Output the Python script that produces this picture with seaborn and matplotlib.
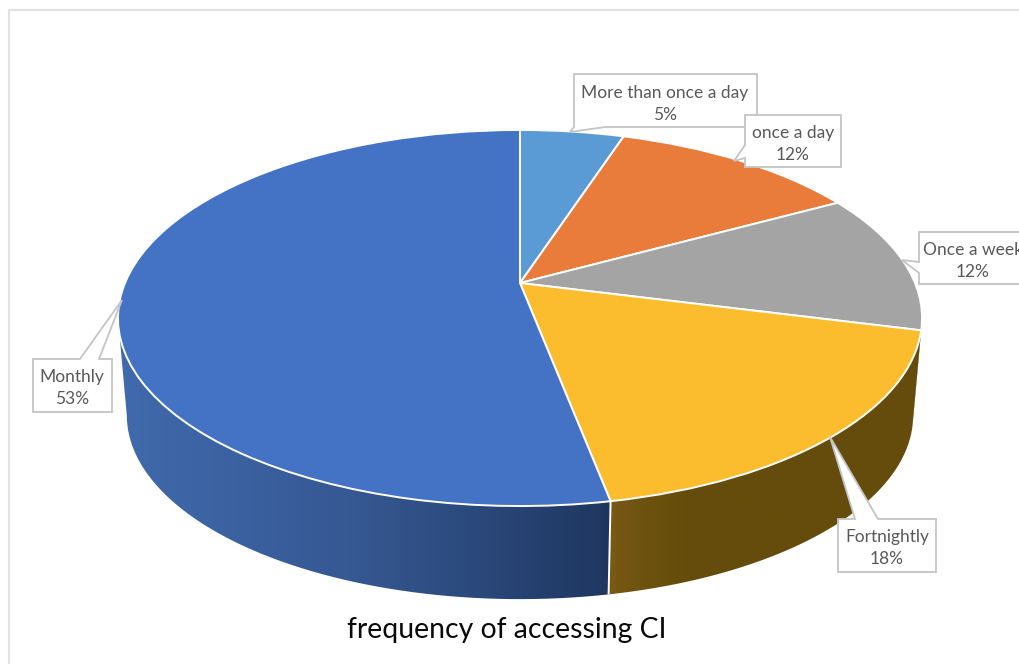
import numpy as np
import matplotlib
matplotlib.use("Agg")
import matplotlib.pyplot as plt
from matplotlib.patches import PathPatch, Polygon
from matplotlib.path import Path
from matplotlib.transforms import Transform
import seaborn as sns

# Survey answers, clockwise from twelve o'clock
categories = ["More than once a day", "once a day", "Once a week", "Fortnightly", "Monthly"]
shares = [5, 12, 12, 18, 53]
chart_title = "frequency of accessing CI"

slice_colors = ["#5B9BD5", "#E97C3A", "#A4A4A4", "#FBBC2D", "#4472C4"]

sns.set_theme(style="white")
plt.rcParams["font.family"] = ["Lato", "DejaVu Sans"]

# Perspective of the tilted disc, in pixels
CENTER_X, CENTER_Y = 520.0, 283.0
RADIUS_X, RADIUS_Y, TILT = 395.0, 181.5, 0.1862
WALL_DROP, SHRINK = 98.0, 0.978


class TiltedDisc(Transform):
    """Projects the unit disc onto the slanted top or bottom face of the pie."""
    input_dims = 2
    output_dims = 2
    is_affine = False

    def __init__(self, drop=0.0, scale=1.0):
        super().__init__()
        self.drop = drop
        self.scale = scale

    def transform_non_affine(self, values):
        values = np.asarray(values, dtype=float)
        x, y = values[:, 0], values[:, 1]
        w = 1.0 + TILT * y
        px = CENTER_X + self.scale * RADIUS_X * x / w
        py = CENTER_Y + self.drop - self.scale * RADIUS_Y * y / w
        return np.column_stack([px, py])


top_face = TiltedDisc()
bottom_face = TiltedDisc(WALL_DROP, SHRINK)

# Side wall colours run left to right across the front of the pie
BLUE_WALL = ([125, 350, 480, 609], [(64, 106, 172), (54, 88, 147), (42, 72, 122), (31, 54, 96)])
GOLD_WALL = ([610, 640, 690, 930], [(122, 90, 20), (110, 82, 15), (101, 76, 12), (101, 76, 12)])
wall_shading = {2: GOLD_WALL, 3: GOLD_WALL, 4: BLUE_WALL}

fig = plt.figure(figsize=(10.19, 6.64), dpi=100, facecolor="white")
ax = fig.add_axes([0, 0, 1, 1])

palette = sns.color_palette(slice_colors)
wedges, _ = ax.pie(
    shares, colors=palette, startangle=90, counterclock=False, radius=1.0,
    wedgeprops={"edgecolor": "white", "linewidth": 1.4, "joinstyle": "round"},
)
ax.set_aspect("auto")
ax.axis("off")

for wedge in wedges:
    wedge.set_transform(top_face + ax.transData)
    wedge.set_zorder(3)

# Side wall: a horizontal gradient clipped to the outline each share sweeps out.
# Only the stretch between the disc's left and right extremes faces the viewer.
fractions = np.cumsum([0] + shares) / np.sum(shares)
front_start = np.degrees(np.arccos(-TILT))
front_stop = 360.0 - front_start
for index, (stops_x, stops_rgb) in wall_shading.items():
    start = max(fractions[index] * 360, front_start)
    stop = min(fractions[index + 1] * 360, front_stop)
    sweep = np.radians(np.append(np.arange(start, stop, 0.5), stop))
    unit = np.column_stack([np.sin(sweep), np.cos(sweep)])
    upper = top_face.transform_non_affine(unit)
    lower = bottom_face.transform_non_affine(unit)
    outline = np.vstack([upper, lower[::-1], upper[:1]])

    left, right = outline[:, 0].min() - 2, outline[:, 0].max() + 2
    columns = np.linspace(left, right, 512)
    rgb = np.array(stops_rgb, dtype=float) / 255.0
    strip = np.stack([np.interp(columns, stops_x, rgb[:, c]) for c in range(3)], axis=-1)[None, :, :]
    image = ax.imshow(strip, extent=(left, right, outline[:, 1].max() + 2, outline[:, 1].min() - 2),
                      aspect="auto", interpolation="bilinear", zorder=2)
    clip = PathPatch(Path(outline), transform=ax.transData, facecolor="none", edgecolor="none")
    ax.add_patch(clip)
    image.set_clip_path(clip)
ax.set_xlim(0, 1019)
ax.set_ylim(664, 0)

# White seam between the Fortnightly and Monthly walls
seam = np.radians(fractions[4] * 360)
seam_unit = np.array([[np.sin(seam), np.cos(seam)]])
seam_top = top_face.transform_non_affine(seam_unit)[0]
seam_bottom = bottom_face.transform_non_affine(seam_unit)[0]
ax.plot([seam_top[0], seam_bottom[0]], [seam_top[1], seam_bottom[1]],
        color="white", lw=1.4, zorder=2.5, solid_capstyle="butt")

# Callouts: outline with its pointer, then the label centred in the box
LINE_GREY = "#C4C4C4"
callouts = {
    "More than once a day": dict(
        outline=[(574, 74), (757, 74), (757, 127), (605, 127), (570, 132), (574, 127)],
        text=(665, 104), z=4),
    "once a day": dict(
        outline=[(745, 115), (841, 115), (841, 167), (745, 167), (745, 158), (734, 161), (745, 145)],
        text=(793, 144), z=5),
    "Once a week": dict(
        outline=[(919, 232), (1027, 232), (1027, 284), (919, 284), (919, 273), (902, 260), (919, 262)],
        text=(973, 261), z=5),
    "Fortnightly": dict(
        outline=[(838, 519), (855, 519), (830, 437), (878, 519), (936, 519), (936, 572), (838, 572)],
        text=(887, 548), z=5),
    "Monthly": dict(
        outline=[(33, 359), (80, 359), (122, 300), (99, 359), (112, 359), (112, 412), (33, 412)],
        text=(72, 388), z=5),
}
for name, value in zip(categories, shares):
    spec = callouts[name]
    ax.add_patch(Polygon(spec["outline"], closed=True, facecolor="white", edgecolor=LINE_GREY,
                         linewidth=1.3, zorder=spec["z"], joinstyle="miter"))
    ax.text(*spec["text"], f"{name}\n{value}%", ha="center", va="center", fontsize=12.5,
            color="#595959", linespacing=1.5, zorder=spec["z"] + 0.1)

# Chart frame, cut off by the right and bottom edges of the canvas
ax.plot([9, 9, 1019], [664, 10, 10], color="#E2E2E2", lw=1.5, zorder=1)

ax.text(507, 630, chart_title, ha="center", va="center", fontsize=20.4, color="#0A0A0A")

fig.savefig("out.png", dpi=100)
